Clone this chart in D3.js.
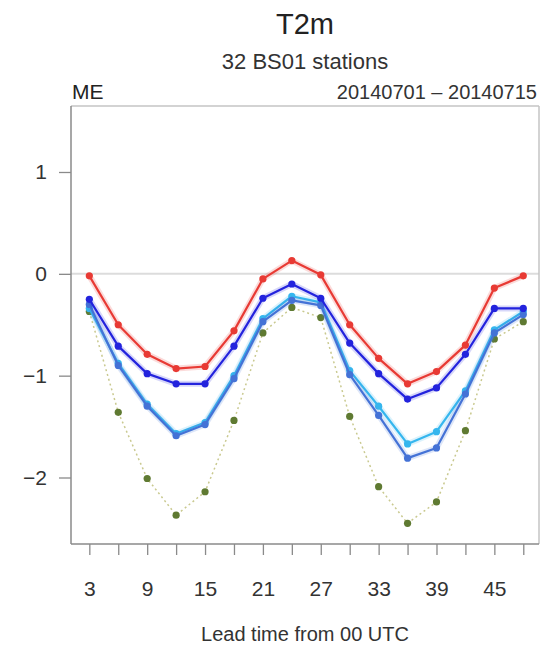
<!DOCTYPE html>
<html>
<head>
<meta charset="utf-8">
<script src="https://cdn.jsdelivr.net/npm/d3@7"></script>
<style>
  html, body { margin: 0; padding: 0; background: #fff; }
  svg { display: block; font-family: "Liberation Sans", Arial, sans-serif; }
</style>
</head>
<body>
<svg id="chart" width="544" height="645"></svg>
<script>
// ---- data ----
const leadTimes = [3, 6, 9, 12, 15, 18, 21, 24, 27, 30, 33, 36, 39, 42, 45, 48];
const seriesRed       = [-0.02, -0.50, -0.79, -0.93, -0.91, -0.56, -0.05, 0.13, -0.01, -0.50, -0.83, -1.08, -0.96, -0.70, -0.14, -0.02];
const seriesDarkBlue  = [-0.25, -0.71, -0.98, -1.08, -1.08, -0.71, -0.24, -0.10, -0.24, -0.68, -0.98, -1.23, -1.12, -0.79, -0.34, -0.34];
const seriesMidBlue   = [-0.30, -0.90, -1.30, -1.59, -1.48, -1.03, -0.47, -0.26, -0.31, -0.99, -1.39, -1.81, -1.71, -1.18, -0.58, -0.40];
const seriesLightBlue = [-0.34, -0.88, -1.28, -1.57, -1.46, -1.00, -0.44, -0.22, -0.28, -0.95, -1.30, -1.67, -1.55, -1.15, -0.55, -0.37];
const seriesGreen     = [-0.37, -1.36, -2.01, -2.37, -2.14, -1.44, -0.58, -0.33, -0.43, -1.40, -2.09, -2.45, -2.24, -1.54, -0.64, -0.47];
const xTickValues  = [3, 6, 9, 12, 15, 18, 21, 24, 27, 30, 33, 36, 39, 42, 45, 48];
const xTickLabels  = ["3", "", "9", "", "15", "", "21", "", "27", "", "33", "", "39", "", "45", ""];
const yTickValues  = [1, 0, -1, -2];
const yTickLabels  = ["1", "0", "\u22121", "\u22122"];
const titleText = "T2m";
const subtitleText = "32 BS01 stations";
const leftLabel = "ME";
const rightLabel = "20140701 \u2013 20140715";
const xAxisTitle = "Lead time from 00 UTC";

// ---- layout ----
const svg = d3.select("#chart");
const L = 71, R = 539, T = 106, B = 544;
const x = d3.scaleLinear().domain([1.1, 49.63]).range([L, R]);
const y = d3.scaleLinear().domain([-2.653, 1.648]).range([B, T]);

// zero reference line
svg.append("line")
  .attr("x1", L).attr("x2", R)
  .attr("y1", y(0)).attr("y2", y(0))
  .attr("stroke", "#dcdcdc").attr("stroke-width", 2);

// frame (top/right lighter)
svg.append("line").attr("x1", L).attr("x2", R).attr("y1", T).attr("y2", T)
  .attr("stroke", "#c4c4c4").attr("stroke-width", 1.5);
svg.append("line").attr("x1", R).attr("x2", R).attr("y1", T).attr("y2", B)
  .attr("stroke", "#c4c4c4").attr("stroke-width", 1.5);

// axes
const xAxis = d3.axisBottom(x).tickValues(xTickValues)
  .tickFormat((d, i) => xTickLabels[i]).tickSize(11).tickPadding(26);
const gx = svg.append("g").attr("transform", `translate(0,${B})`).call(xAxis);
gx.select(".domain").attr("stroke", "#8a8a8a").attr("stroke-width", 1.5)
  .attr("d", `M${L},0H${R}`);
gx.selectAll(".tick line").attr("stroke", "#8a8a8a").attr("stroke-width", 1.3);
gx.selectAll(".tick text").attr("fill", "#333").attr("font-size", 21)
  .attr("font-family", "Liberation Sans, Arial, sans-serif");

const yAxis = d3.axisLeft(y).tickValues(yTickValues)
  .tickFormat((d, i) => yTickLabels[i]).tickSize(12).tickPadding(12);
const gy = svg.append("g").attr("transform", `translate(${L},0)`).call(yAxis);
gy.select(".domain").attr("stroke", "#8a8a8a").attr("stroke-width", 1.5)
  .attr("d", `M0,${T}V${B}`);
gy.selectAll(".tick line").attr("stroke", "#8a8a8a").attr("stroke-width", 1.3);
gy.selectAll(".tick text").attr("fill", "#333").attr("font-size", 21)
  .attr("font-family", "Liberation Sans, Arial, sans-serif");

// series
const line = d3.line().x((d, i) => x(leadTimes[i])).y(d => y(d));
const series = [
  { vals: seriesGreen, line: "#c9c98f", dot: "#5f7a32", dash: "2,3", w: 1.5 },
  { vals: seriesLightBlue, line: "#35b6ee", dot: "#35b6ee", dash: null, w: 2.2 },
  { vals: seriesMidBlue, line: "#4472d6", dot: "#4472d6", dash: null, w: 2.2 },
  { vals: seriesDarkBlue, line: "#2323dd", dot: "#2323dd", dash: null, w: 2.2 },
  { vals: seriesRed, line: "#e83a34", dot: "#e83a34", dash: null, w: 2.2 }
];
series.forEach(s => {
  const g = svg.append("g");
  if (!s.dash) {
    g.append("path").attr("d", line(s.vals)).attr("fill", "none")
      .attr("stroke", s.line).attr("stroke-opacity", 0.18).attr("stroke-width", 6)
      .attr("stroke-linejoin", "round");
  }
  g.append("path").attr("d", line(s.vals)).attr("fill", "none")
    .attr("stroke", s.line).attr("stroke-width", s.w)
    .attr("stroke-dasharray", s.dash).attr("stroke-linejoin", "round");
  g.selectAll("circle").data(s.vals).join("circle")
    .attr("cx", (d, i) => x(leadTimes[i])).attr("cy", d => y(d))
    .attr("r", 3.6).attr("fill", s.dot);
});

// texts
const cx = (L + R) / 2;
svg.append("text").attr("x", cx).attr("y", 34).attr("text-anchor", "middle")
  .attr("font-size", 29).attr("fill", "#222").text(titleText);
svg.append("text").attr("x", cx).attr("y", 69).attr("text-anchor", "middle")
  .attr("font-size", 22).attr("fill", "#333").text(subtitleText);
svg.append("text").attr("x", L + 1).attr("y", 99).attr("text-anchor", "start")
  .attr("font-size", 21).attr("fill", "#222").text(leftLabel);
svg.append("text").attr("x", R - 2).attr("y", 99).attr("text-anchor", "end")
  .attr("font-size", 20).attr("fill", "#333").text(rightLabel);
svg.append("text").attr("x", cx).attr("y", 641).attr("text-anchor", "middle")
  .attr("font-size", 20).attr("fill", "#333").text(xAxisTitle);
</script>
</body>
</html>
